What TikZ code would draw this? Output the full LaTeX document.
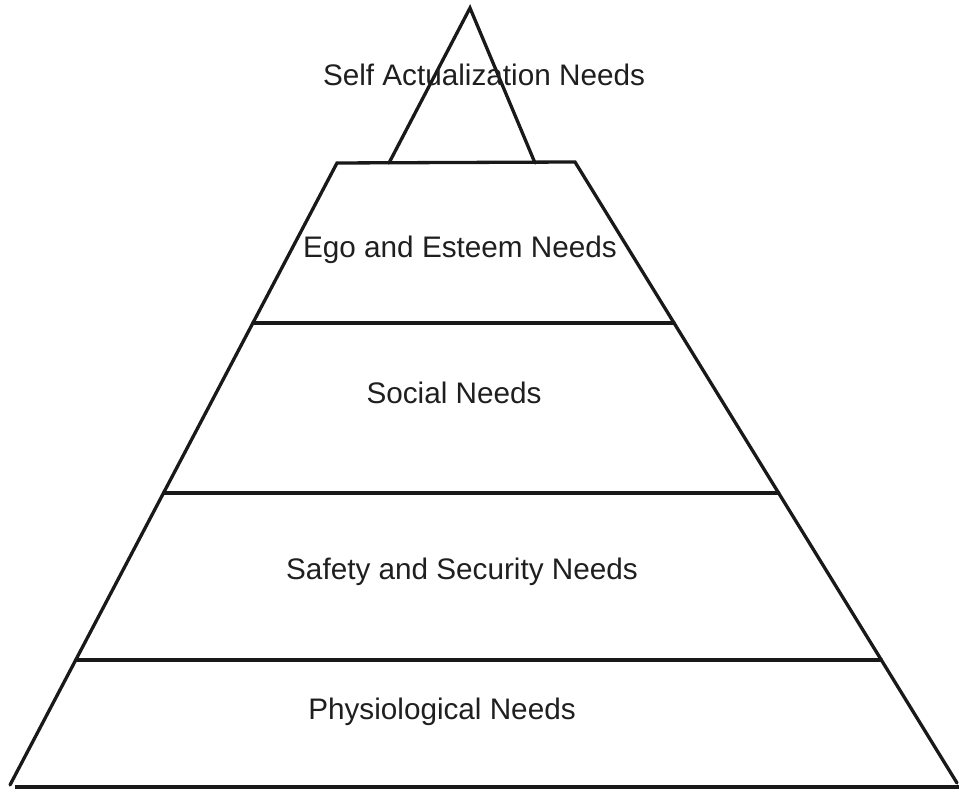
\documentclass[tikz,border=0pt]{standalone}
\usepackage{fontspec}
\setmainfont{Liberation Sans}
\begin{document}
\begin{tikzpicture}[x=1pt,y=1pt,
  edge/.style={line width=3.3pt, line cap=round, line join=miter, draw=black!90},
  label/.style={font=\fontsize{29.7}{34}\selectfont, text=black!88, inner sep=0pt}]
\useasboundingbox (0,0) rectangle (959,794);
% key points
\coordinate (apex) at (470,786);
\coordinate (tl) at (389,631);
\coordinate (tr) at (535,631);
\coordinate (ul) at (337,631);
\coordinate (ur) at (575,632);
\coordinate (bl) at (10,9);
\coordinate (br) at (957,11);
\coordinate (b0) at (15,7);
\coordinate (b1) at (959,7);
% band levels on the sides
\coordinate (l1) at (intersection of ul--bl and 0,471--959,471);
\coordinate (r1) at (intersection of ur--br and 0,471--959,471);
\coordinate (l2) at (intersection of ul--bl and 0,301--959,301);
\coordinate (r2) at (intersection of ur--br and 0,301--959,301);
\coordinate (l3) at (intersection of ul--bl and 0,134--959,134);
\coordinate (r3) at (intersection of ur--br and 0,134--959,134);
% top triangle
\draw[edge] (tl) -- (apex) -- (tr);
% trapezoid body
\draw[edge] (bl) -- (ul) -- (ur) -- (br);
\draw[edge] (l1) -- (r1);
\draw[edge] (l2) -- (r2);
\draw[edge] (l3) -- (r3);
\draw[line width=4.5pt, draw=black!90] (b0) -- (b1);
% labels
\node[label] (self) at (484,719) {Self Actualization Needs};
\node[label] (ego) at (460,544) {Ego and Esteem Needs};
\node[label] (social) at (454,401) {Social Needs};
\node[label] (safety) at (462,222) {Safety and Security Needs};
\node[label] (phys) at (442,82) {Physiological Needs};
\end{tikzpicture}
\end{document}
